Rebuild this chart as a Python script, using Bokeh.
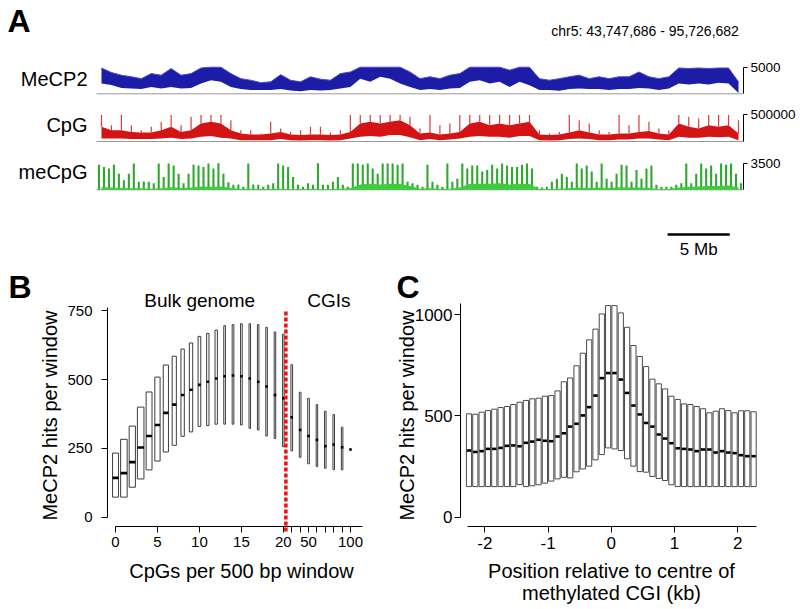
import numpy as np
from bokeh.plotting import figure
from bokeh.models import Range1d, FixedTicker, LinearAxis, Label, ColumnDataSource
from bokeh.embed import file_html
from bokeh.resources import INLINE

FONT = "Liberation Sans"

# ---------------- Panel A data ----------------
CHROM = "chr5"
REGION_START = 43747686
REGION_END = 95726682
MECP2_MAX = 5000
CPG_MAX = 500000
MECPG_MAX = 3500
SCALE_BAR_MB = 5

# MeCP2 hits, lower / upper envelope per ~0.8 Mb bin
mecp2_low = [1950, 1650, 1100, 1000, 900, 1300, 1000, 1300, 1000, 1100,
             1950, 2550, 2250, 1300, 900, 700, 700, 700, 900, 600,
             500, 700, 600, 700, 1000, 1300, 2850, 2250, 3200, 2850,
             1950, 1300, 700, 900, 700, 1000, 1100, 2250, 2550, 1950,
             2250, 1300, 2250, 1600, 700, 700, 550, 900, 1000, 900,
             900, 700, 900, 900, 1100, 1000, 700, 1000, 1950, 1750,
             1950, 1750, 2100, 1950, 150]
mecp2_high = [4850, 4000, 3500, 3200, 2850, 3800, 3500, 4750, 3500, 3800,
              4850, 5000, 5000, 3800, 2850, 2550, 2100, 2250, 3600, 2550,
              2250, 3200, 2750, 2550, 3800, 4100, 5000, 5000, 5000, 5000,
              5000, 4100, 2850, 3200, 2850, 3500, 3800, 5000, 5000, 5000,
              5000, 4450, 5000, 5000, 2850, 2550, 2850, 3200, 3500, 2850,
              3200, 2850, 3200, 3200, 4100, 3200, 2850, 3200, 4850, 4750,
              4850, 4750, 4850, 4850, 2250]

# CpG density (thousands): band low / band high / spike peak per bin
cpg_low_k = [55, 55, 55, 45, 45, 45, 55, 70, 45, 55,
             88, 105, 70, 55, 25, 25, 25, 25, 45, 25,
             20, 25, 25, 20, 25, 55, 88, 105, 88, 120,
             120, 80, 25, 45, 25, 38, 55, 88, 105, 88,
             88, 70, 105, 105, 25, 20, 25, 45, 55, 45,
             25, 25, 38, 38, 55, 55, 38, 25, 88, 70,
             70, 88, 80, 88, 25]
cpg_high_k = [275, 212, 212, 180, 170, 170, 212, 275, 180, 212,
              338, 370, 338, 212, 150, 130, 130, 150, 180, 130,
              120, 130, 130, 120, 130, 180, 338, 370, 338, 370,
              400, 305, 150, 170, 130, 150, 180, 338, 370, 305,
              338, 305, 338, 370, 130, 120, 130, 170, 212, 170,
              130, 130, 150, 150, 180, 195, 150, 130, 338, 275,
              245, 305, 275, 305, 150]
cpg_peak_k = [495, 305, 495, 305, 212, 275, 370, 495, 305, 462,
              495, 495, 495, 400, 212, 212, 150, 370, 245, 180,
              212, 275, 275, 170, 212, 495, 495, 495, 495, 495,
              495, 462, 245, 495, 305, 338, 495, 495, 495, 495,
              495, 495, 495, 495, 212, 150, 180, 495, 400, 338,
              212, 180, 495, 305, 495, 370, 245, 212, 495, 462,
              430, 495, 495, 495, 400]

# methylated CpG: low body per ~0.8 Mb bin, spike peaks per ~0.4 Mb bin
mecpg_body = [350, 300, 250, 200, 200, 150, 200, 350, 250, 300, 450, 400, 450,
              250, 150, 150, 100, 150, 150, 100, 100, 150, 100, 100, 150, 200,
              700, 800, 700, 800, 750, 500,
              150, 200, 150, 150, 300,
              750, 800, 800, 850, 700, 800, 750,
              100, 100, 150, 200, 300,
              250, 300, 250, 350, 300, 300, 250, 100, 100,
              300, 400, 450, 500, 500, 550, 300]
mecpg_peak = [3300, 3000, 2800, 3300, 2100, 1250, 2100, 3450, 1050, 1100,
              1050, 850, 3450, 1700, 3450, 3200, 2100, 850, 2100, 3300,
              3200, 3000, 3450, 2800, 3500, 2100, 1000, 650, 700, 400,
              3450, 700, 650, 400, 650, 850, 3450, 3200, 3000, 1700,
              650, 400, 850, 650, 3500, 650, 650, 1050, 1700, 650,
              400, 3450, 3450, 3300, 3450, 2800, 2100, 3450, 3450, 3450,
              3300, 3450, 1050, 850, 650, 400, 3300, 1050, 650, 400,
              3450, 1050, 1450, 3450, 2800, 3200, 3200, 2400, 2600, 3300,
              2800, 3450, 3200, 3000, 3000, 3300, 3450, 2800, 400, 300,
              400, 1050, 1450, 2100, 1700, 1050, 3450, 2800, 3200, 2400,
              1050, 3450, 1450, 1050, 2100, 3300, 3200, 1050, 2600, 1450,
              2800, 3200, 650, 400, 400, 400, 650, 850, 3450, 850,
              2100, 3450, 2800, 3200, 2100, 3450, 3300, 3450, 2100, 850]

# ---------------- Panel B data ----------------
b_labels = ["0", "1", "2", "3", "4", "5", "6", "7", "8", "9", "10", "11", "12", "13", "14",
            "15", "16", "17", "18", "19", "20", "30", "40", "50", "60", "70", "80", "90", "100"]
b_shown = ["0", "5", "10", "15", "20", "50", "100"]
b_q1 = [73, 73, 109, 139, 172, 204, 237, 261, 294, 310, 330, 333, 338, 338, 338,
        335, 323, 317, 295, 286, 256, 241, 218, 194, 184, 178, 173, 172, 246]
b_med = [143, 160, 200, 253, 295, 335, 379, 409, 444, 463, 481, 492, 504, 512, 515,
         512, 504, 492, 475, 444, 432, 363, 317, 295, 281, 258, 264, 254, 246]
b_q3 = [233, 283, 331, 400, 455, 509, 553, 585, 611, 633, 657, 668, 680, 696, 700,
        703, 703, 700, 690, 673, 665, 554, 454, 432, 409, 385, 373, 327, 246]
# relative box widths (proportional to number of windows)
b_width = [0.70, 0.78, 0.74, 0.78, 0.70, 0.63, 0.62, 0.50, 0.40, 0.40, 0.32, 0.28, 0.28, 0.20, 0.20,
           0.20, 0.18, 0.18, 0.18, 0.18, 0.18, 0.20, 0.20, 0.20, 0.18, 0.18, 0.18, 0.18, 0.0]
CGI_SPLIT = 20.3  # boundary between bulk genome and CGI classes

# ---------------- Panel C data ----------------
c_pos = [-2.25, -2.15, -2.05, -1.95, -1.85, -1.75, -1.65, -1.55, -1.45, -1.35, -1.25, -1.15,
         -1.05, -0.95, -0.85, -0.75, -0.65, -0.55, -0.45, -0.35, -0.25, -0.15, -0.05,
         0.05, 0.15, 0.25, 0.35, 0.45, 0.55, 0.65, 0.75, 0.85, 0.95, 1.05, 1.15, 1.25,
         1.35, 1.45, 1.55, 1.65, 1.75, 1.85, 1.95, 2.05, 2.15, 2.25]
c_q1 = [151, 151, 151, 151, 151, 151, 151, 151, 161, 151, 155, 160, 168, 178, 189, 197,
        194, 224, 238, 252, 283, 309, 342, 337, 329, 288, 252, 225, 222, 201, 191, 181,
        160, 151, 151, 151, 151, 151, 151, 151, 151, 151, 151, 151, 151, 151]
c_med = [329, 322, 326, 337, 337, 342, 352, 354, 350, 367, 373, 382, 377, 375, 398, 414,
         447, 461, 502, 543, 600, 686, 711, 711, 679, 613, 551, 507, 465, 447, 408, 388,
         365, 340, 337, 334, 326, 334, 334, 319, 326, 319, 316, 306, 301, 301]
c_q3 = [510, 508, 518, 526, 533, 541, 546, 556, 567, 576, 584, 587, 597, 600, 623, 668,
        687, 747, 809, 875, 928, 1003, 1044, 1044, 1008, 937, 847, 793, 743, 681, 658, 633,
        597, 581, 559, 556, 546, 535, 515, 523, 535, 526, 515, 525, 525, 520]
C_BOX_W = 0.082

# ---------------- canvas: one figure, page-pixel default ranges ----------------
W, H = 800, 609
PX0, PX1, PY0, PY1 = 0, W, 0, H


def lin(P0, v0, P1, v1):
    return lambda P: v0 + (P - P0) / (P1 - P0) * (v1 - v0)


def xr_ext(P0, v0, P1, v1):
    f = lin(P0, v0, P1, v1)
    return Range1d(f(PX0), f(PX1)), f


def yr_ext(Pb, vb, Pt, vt):
    f = lin(Pb, vb, Pt, vt)
    return Range1d(f(PY1), f(PY0)), f


p = figure(width=W, height=H, x_range=Range1d(PX0, PX1), y_range=Range1d(PY1, PY0),
           x_axis_type=None, y_axis_type=None, output_backend="svg", toolbar_location=None,
           min_border=0, min_border_left=0, min_border_right=0, min_border_top=0,
           min_border_bottom=0)
p.outline_line_color = None
p.background_fill_color = "white"
p.border_fill_color = "white"

mb_start = REGION_START / 1e6
mb_end = REGION_END / 1e6
rng_trk, fx_trk = xr_ext(96, mb_start, 743, mb_end)
rng_t1, _ = yr_ext(93.3, 0, 66.7, MECP2_MAX)
rng_t2, _ = yr_ext(141.0, 0, 114.3, CPG_MAX)
rng_t3, _ = yr_ext(189.3, 0, 162.7, MECPG_MAX)
rng_xB, fxB = xr_ext(115, 0, 350, 28)
rng_yB, fyB = yr_ext(516.7, 0, 310.3, 750)
rng_xC, fxC = xr_ext(484.3, -2, 737.3, 2)
rng_yC, fyC = yr_ext(516.7, 0, 314.0, 1000)
p.extra_x_ranges = {"trk": rng_trk, "B": rng_xB, "C": rng_xC}
p.extra_y_ranges = {"t1": rng_t1, "t2": rng_t2, "t3": rng_t3, "B": rng_yB, "C": rng_yC}


def text(X, Y, s, size, align="left", bold=False, angle=0.0, **kw):
    # Y is the vertical centre of the capital letters
    p.add_layout(Label(x=X, y=Y, text=s, text_font=FONT, text_font_size=f"{size}px",
                       text_align=align, text_baseline="middle", angle=angle,
                       text_font_style="bold" if bold else "normal", text_color="black", **kw))


def centers(n):
    step = (mb_end - mb_start) / n
    return [mb_start + (i + 0.5) * step for i in range(n)]


# ---------------- Panel A ----------------
text(7, 20, "A", 32, bold=True)
text(644.6, 30, f"{CHROM}: {REGION_START:,} - {REGION_END:,}", 14, align="center")


def track_axis(rname, ymax):
    ax = LinearAxis(x_range_name="trk", y_range_name=rname, fixed_location=mb_end,
                    bounds=(0, ymax), ticker=FixedTicker(ticks=[ymax]),
                    major_label_overrides={ymax: str(ymax)},
                    major_tick_in=0, major_tick_out=4, minor_tick_line_color=None,
                    major_label_standoff=3, major_label_text_font=FONT,
                    major_label_text_font_size="13.5px", major_label_text_color="black",
                    axis_line_color="black", major_tick_line_color="black")
    p.add_layout(ax, "right")
    p.line([mb_start, mb_end], [0, 0], x_range_name="trk", y_range_name=rname,
           line_color="#999999", line_width=1)


track_axis("t1", MECP2_MAX)
xs = centers(len(mecp2_low))
p.varea(x=xs, y1=mecp2_low, y2=mecp2_high, fill_color="#1c1ca6",
        x_range_name="trk", y_range_name="t1")
p.line(xs, mecp2_high, line_color="#4a4ad0", line_width=1, x_range_name="trk", y_range_name="t1")
text(87, 78, "MeCP2", 20, align="right")

track_axis("t2", CPG_MAX)
xs = centers(len(cpg_low_k))
cl = [v * 1000 for v in cpg_low_k]
ch = [v * 1000 for v in cpg_high_k]
cp = [v * 1000 for v in cpg_peak_k]
p.segment(x0=xs, y0=ch, x1=xs, y1=cp, line_color="#dd3b3b", line_width=1.2,
          x_range_name="trk", y_range_name="t2")
p.varea(x=xs, y1=cl, y2=ch, fill_color="#d41414", x_range_name="trk", y_range_name="t2")
text(87, 124.5, "CpG", 20, align="right")

track_axis("t3", MECPG_MAX)
xs_b = centers(len(mecpg_body))
xs_p = centers(len(mecpg_peak))
bar_w = (mb_end - mb_start) / len(mecpg_peak) * 0.42
p.vbar(x=xs_p, top=mecpg_peak, bottom=0, width=bar_w, fill_color="#2ea82e", line_color=None,
       x_range_name="trk", y_range_name="t3")
p.varea(x=xs_b, y1=[0] * len(mecpg_body), y2=mecpg_body, fill_color="#3ccc3c",
        x_range_name="trk", y_range_name="t3")
text(87, 171, "meCpG", 20, align="right")

# scale bar (in genomic units)
bar_end = mb_end - 1.1
bar_start = bar_end - SCALE_BAR_MB
p.segment(x0=[bar_start], y0=[234], x1=[bar_end], y1=[234], x_range_name="trk",
          line_color="black", line_width=2.5)
text((bar_start + bar_end) / 2, 249, f"{SCALE_BAR_MB} Mb", 17, align="center",
     x_range_name="trk")


def style_axis(ax, size):
    ax.major_tick_in = 0
    ax.major_tick_out = 6
    ax.minor_tick_line_color = None
    ax.axis_line_color = "black"
    ax.major_tick_line_color = "black"
    ax.major_label_text_font = FONT
    ax.major_label_text_font_size = size
    ax.major_label_text_color = "black"


# ---------------- Panel B ----------------
b_idx = list(range(len(b_labels)))
srcB = ColumnDataSource(dict(
    x=b_idx, q1=b_q1, q3=b_q3, med=b_med,
    left=[i - w / 2 for i, w in zip(b_idx, b_width)],
    right=[i + w / 2 for i, w in zip(b_idx, b_width)],
    mw=[max(w, 0.3) for w in b_width]))
p.quad(left="left", right="right", bottom="q1", top="q3", source=srcB,
       fill_color=None, line_color="#3c3c3c", line_width=1, x_range_name="B", y_range_name="B")
p.rect(x="x", y="med", width="mw", height=2.6, height_units="screen", source=srcB,
       fill_color="black", line_color=None, x_range_name="B", y_range_name="B")
p.segment(x0=[CGI_SPLIT], y0=[fyB(531)], x1=[CGI_SPLIT], y1=[fyB(309)], line_color="#ee1111",
          line_width=3.5, line_dash="4 2", x_range_name="B", y_range_name="B")

axBx = LinearAxis(x_range_name="B", y_range_name="B", fixed_location=fyB(526),
                  bounds=(0, fxB(361.7)),
                  ticker=FixedTicker(ticks=[i for i, l in enumerate(b_labels)
                                            if int(l) % 5 == 0 or int(l) >= 20]),
                  major_label_overrides={i: (l if l in b_shown else "")
                                         for i, l in enumerate(b_labels)},
                  major_label_standoff=4)
style_axis(axBx, "15px")
p.add_layout(axBx, "below")
axBy = LinearAxis(x_range_name="B", y_range_name="B", fixed_location=fxB(107),
                  bounds=(0, fyB(307)), ticker=FixedTicker(ticks=[0, 250, 500, 750]),
                  major_label_standoff=9)
style_axis(axBy, "15px")
p.add_layout(axBy, "left")

text(8, 286.5, "B", 32, bold=True)
text(199.2, 300, "Bulk genome", 19, align="center")
text(328.3, 300, "CGIs", 19, align="center")
text(241, 570, "CpGs per 500 bp window", 20, align="center")
text(49, 415, "MeCP2 hits per window", 20, align="center", angle=np.pi / 2)

# ---------------- Panel C ----------------
srcC = ColumnDataSource(dict(x=c_pos, q1=c_q1, q3=c_q3, med=c_med,
                             left=[v - C_BOX_W / 2 for v in c_pos],
                             right=[v + C_BOX_W / 2 for v in c_pos]))
p.quad(left="left", right="right", bottom="q1", top="q3", source=srcC,
       fill_color=None, line_color="#4a4a4a", line_width=1, x_range_name="C", y_range_name="C")
p.rect(x="x", y="med", width=C_BOX_W * 0.85, height=2.6, height_units="screen", source=srcC,
       fill_color="black", line_color=None, x_range_name="C", y_range_name="C")

axCx = LinearAxis(x_range_name="C", y_range_name="C", fixed_location=fyC(526),
                  bounds=(fxC(466.7), fxC(756)), ticker=FixedTicker(ticks=[-2, -1, 0, 1, 2]),
                  major_label_overrides={-2: "-2", -1: "-1", 0: "0", 1: "1", 2: "2"},
                  major_label_standoff=4)
style_axis(axCx, "17px")
p.add_layout(axCx, "below")
axCy = LinearAxis(x_range_name="C", y_range_name="C", fixed_location=fxC(460),
                  bounds=(0, fyC(303)), ticker=FixedTicker(ticks=[0, 500, 1000]),
                  major_label_standoff=2)
style_axis(axCy, "17px")
p.add_layout(axCy, "left")

text(396, 286.5, "C", 32, bold=True)
text(611, 570, "Position relative to centre of", 20, align="center")
text(611, 592, "methylated CGI (kb)", 20, align="center")
text(406, 415, "MeCP2 hits per window", 20, align="center", angle=np.pi / 2)

open("out.html", "w").write(file_html(p, INLINE))
